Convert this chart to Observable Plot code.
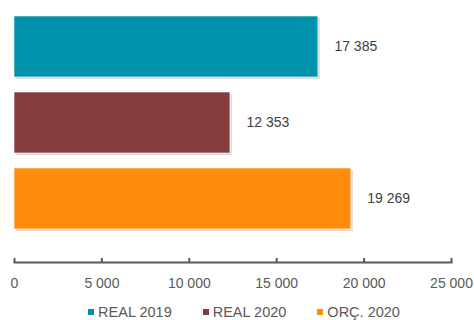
<!DOCTYPE html>
<html><head><meta charset="utf-8">
<script src="https://cdn.jsdelivr.net/npm/d3@7"></script>
<script src="https://cdn.jsdelivr.net/npm/@observablehq/plot@0.6"></script>
<style>
body{margin:0;background:#fff;font-family:"Liberation Sans",Arial,sans-serif;}
#legend{display:flex;justify-content:center;gap:31px;font-size:14.5px;color:#595959;height:22px;align-items:center;margin-left:14px;margin-top:3px;}
#legend span.sw{display:inline-block;width:6px;height:6px;margin-right:4px;vertical-align:middle;position:relative;top:-1px;}
</style></head>
<body><div id="chart"></div>
<script>
const categories = ["REAL 2019", "REAL 2020", "ORÇ. 2020"];
const values = [17385, 12353, 19269];
const colors = ["#0092AA", "#843D3E", "#FF8C0A"];
const ticks = [0, 5000, 10000, 15000, 20000, 25000];

const data = categories.map((c, i) => ({cat: c, value: values[i]}));
const loc = d3.formatLocale({decimal: ",", thousands: " ", grouping: [3], currency: ["", ""]});
const fmt = loc.format(",d");

const H = 298, MB = 36, MT = 0;
const plot = Plot.plot({
  width: 474, height: H,
  marginLeft: 14, marginRight: 23, marginTop: MT, marginBottom: MB,
  style: {fontFamily: "Liberation Sans, Arial, sans-serif", fontSize: "14px", color: "#595959", background: "#fff"},
  x: {domain: [0, 25000], label: null},
  y: {domain: categories, range: [0, 245], padding: 0.2, axis: null},
  color: {domain: categories, range: colors},
  marks: [
    Plot.barX(data, {x: "value", y: "cat", fill: "#bdbdbd", fillOpacity: 0.55, dx: 2, dy: 2}),
    Plot.barX(data, {x: "value", y: "cat", fill: "cat", stroke: "#ffffff", strokeOpacity: 0.6, strokeWidth: 1}),
    Plot.text(data, {x: "value", y: "cat", text: d => fmt(d.value), dx: 16, textAnchor: "start", fill: "#404040", fontSize: 14}),
    Plot.frame({anchor: "bottom", stroke: "#595959", strokeWidth: 2}),
    Plot.tickX(ticks, {x: d => d, stroke: "#595959", strokeWidth: 2, insetTop: H - MB - MT - 4}),
    Plot.axisX(ticks, {anchor: "bottom", tickSize: 0, tickPadding: 16, tickFormat: fmt, fill: "#595959", fontSize: 14, label: null})
  ]
});
document.getElementById("chart").appendChild(plot);

const leg = document.createElement("div");
leg.id = "legend";
categories.forEach((c, i) => {
  const item = document.createElement("div");
  const sw = document.createElement("span");
  sw.className = "sw"; sw.style.background = colors[i];
  item.appendChild(sw);
  item.appendChild(document.createTextNode(c));
  leg.appendChild(item);
});
document.body.appendChild(leg);
</script></body></html>
